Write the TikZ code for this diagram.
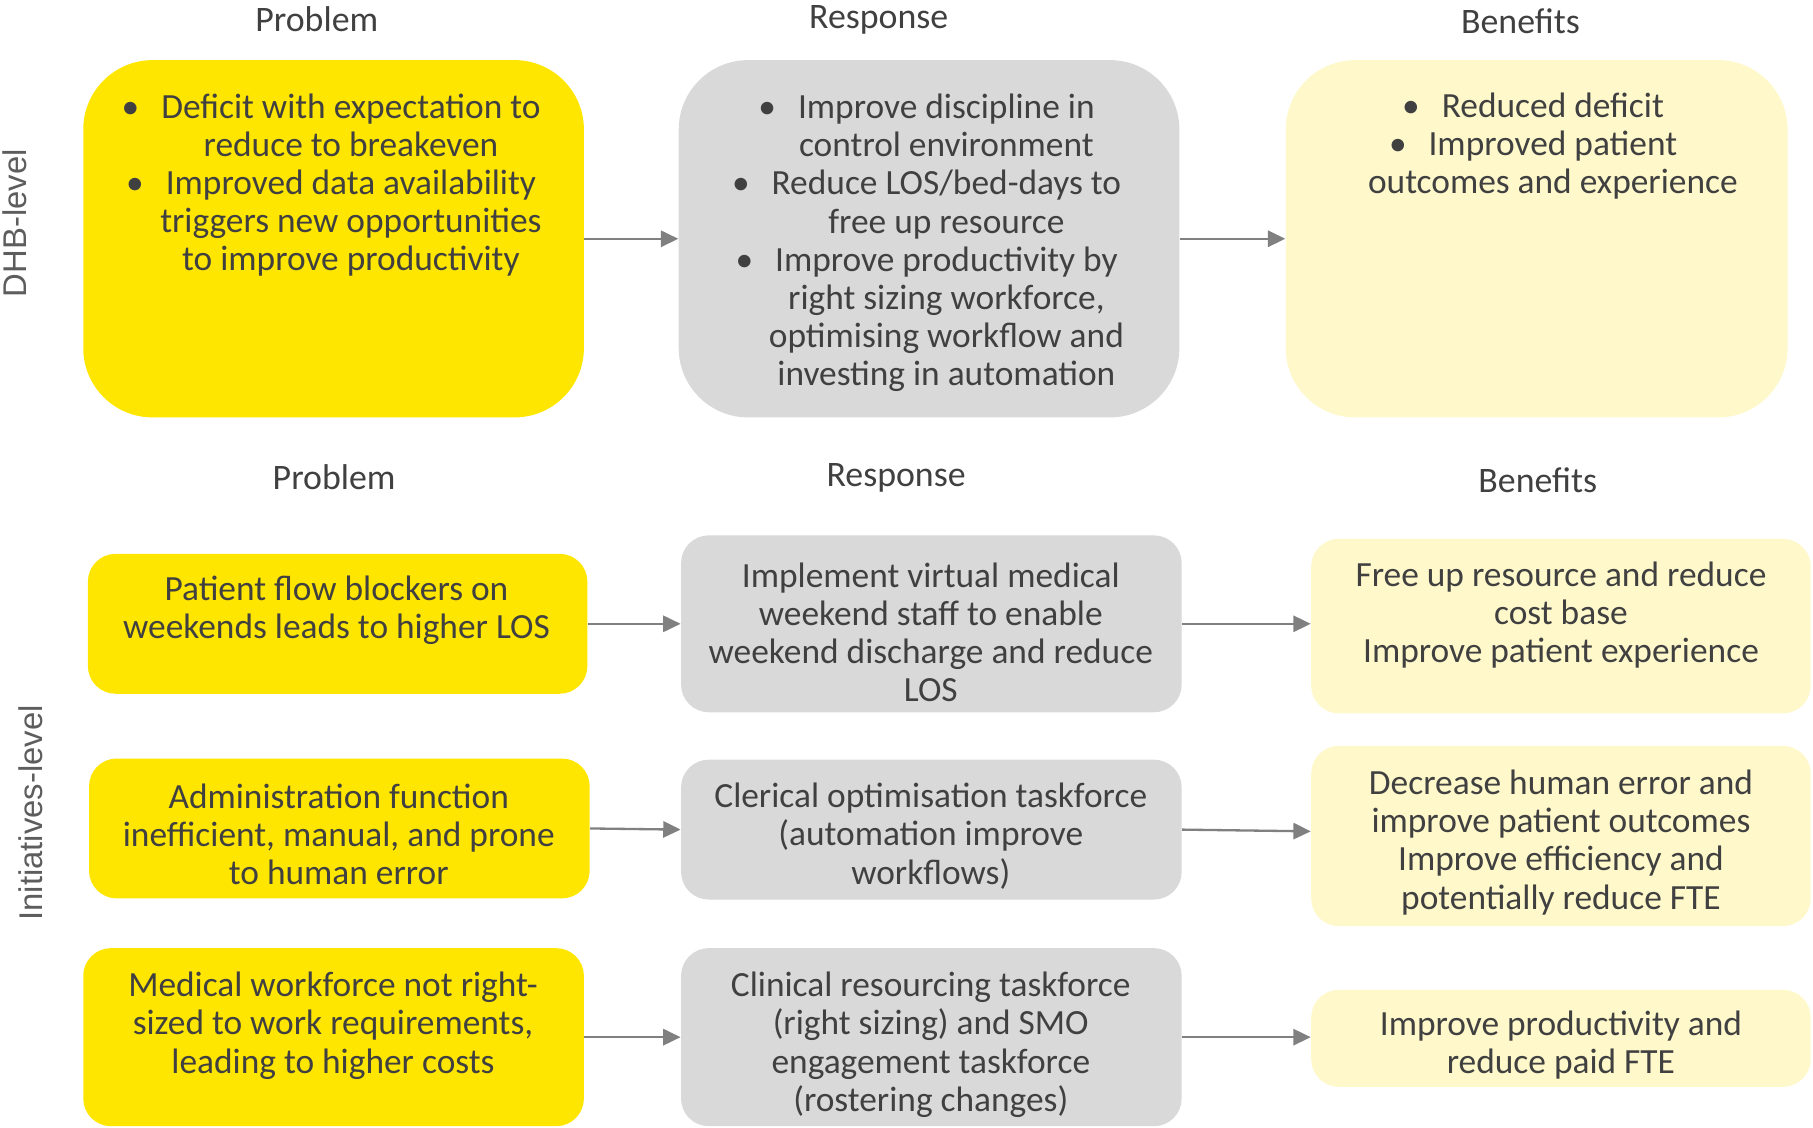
\documentclass[tikz,border=0pt]{standalone}
\usepackage{fontspec}
\setmainfont{Carlito}
\newfontfamily\sidefont{Liberation Sans}
\usetikzlibrary{arrows.meta}
\definecolor{eyyellow}{HTML}{FFE600}
\definecolor{boxgrey}{HTML}{D9D9D9}
\definecolor{paleyellow}{HTML}{FEF8CB}
\definecolor{txt}{HTML}{404040}
\definecolor{arrowgrey}{HTML}{808080}
\newcommand{\bul}{\llap{\textbullet\hspace{9.5pt}}}
\begin{document}
\begin{tikzpicture}[x=0.5pt,y=-0.5pt,
  every node/.style={text=txt},
  bodytext/.style={align=center,inner sep=0pt,yshift=-0.8pt,font=\fontsize{15.3}{16.5}\selectfont},
  header/.style={inner sep=0pt,font=\fontsize{15.5}{17}\selectfont},
  sidelabel/.style={inner sep=0pt,rotate=90,text=txt!85,font=\sidefont\fontsize{14.2}{17}\selectfont},
  bigbox/.style={rounded corners=30pt,inner sep=0pt,minimum width=216.5pt,minimum height=154.5pt},
  smallbox/.style={rounded corners=12pt,inner sep=0pt},
  probfill/.style={fill=eyyellow},
  respfill/.style={fill=boxgrey},
  benfill/.style={fill=paleyellow},
  flow/.style={draw=arrowgrey,line width=1pt,-{Triangle[length=7.5pt,width=7pt]}}]

\useasboundingbox (0,0) rectangle (1568,975);

% column headers
\node[header] (h1p) at (274,17) {Problem};
\node[header] (h1r) at (760,17) {Response};
\node[header] (h1b) at (1315,18) {Benefits};
\node[header] (h2p) at (289,413) {Problem};
\node[header] (h2r) at (775,413) {Response};
\node[header] (h2b) at (1330,415) {Benefits};

% row labels
\node[sidelabel] (lvl1) at (13,193) {DHB-level};
\node[sidelabel] (lvl2) at (27,703) {Initiatives-level};

% DHB-level boxes
\node[bigbox,probfill] (p1) at (288.5,206.5) {};
\node[bigbox,respfill] (r1) at (803.5,206.5) {};
\node[bigbox,benfill,minimum width=217pt] (b1) at (1329,206.5) {};

\node[bodytext] (p1t) at (303.5,158.5) {\bul Deficit with expectation to\\reduce to breakeven\\\bul Improved data availability\\triggers new opportunities\\to improve productivity};
\node[bodytext] (r1t) at (818.5,208.5) {\bul Improve discipline in\\control environment\\\bul Reduce LOS/bed-days to\\free up resource\\\bul Improve productivity by\\right sizing workforce,\\optimising workflow and\\investing in automation};
\node[bodytext] (b1t) at (1343,125) {\bul Reduced deficit\\\bul Improved patient\\outcomes and experience};

% initiatives-level boxes
\node[smallbox,probfill,minimum width=216pt,minimum height=60.5pt] (p2) at (292,539.5) {};
\node[smallbox,respfill,minimum width=216.5pt,minimum height=76.5pt] (r2) at (805.5,539.5) {};
\node[smallbox,benfill,minimum width=216pt,minimum height=75.5pt] (b2) at (1350,541.5) {};

\node[smallbox,probfill,minimum width=216.5pt,minimum height=60.5pt] (p3) at (293.5,716.5) {};
\node[smallbox,respfill,minimum width=216.5pt,minimum height=60.5pt] (r3) at (805.5,717.5) {};
\node[smallbox,benfill,minimum width=216pt,minimum height=78pt] (b3) at (1350,723) {};

\node[smallbox,probfill,minimum width=216.5pt,minimum height=77pt] (p4) at (288.5,897) {};
\node[smallbox,respfill,minimum width=216.5pt,minimum height=77pt] (r4) at (805.5,897) {};
\node[smallbox,benfill,minimum width=216pt,minimum height=42pt] (b4) at (1350,898) {};

\node[bodytext] (p2t) at (291,526.5) {Patient flow blockers on\\weekends leads to higher LOS};
\node[bodytext] (r2t) at (805,545.5) {Implement virtual medical\\weekend staff to enable\\weekend discharge and reduce\\LOS};
\node[bodytext] (b2t) at (1350,530.5) {Free up resource and reduce\\cost base\\Improve patient experience};

\node[bodytext] (p3t) at (293,720) {Administration function\\inefficient, manual, and prone\\to human error};
\node[bodytext] (r3t) at (805,721.5) {Clerical optimisation taskforce\\(automation improve\\workflows)};
\node[bodytext] (b3t) at (1350,727) {Decrease human error and\\improve patient outcomes\\Improve efficiency and\\potentially reduce FTE};

\node[bodytext] (p4t) at (288,885.5) {Medical workforce not right-\\sized to work requirements,\\leading to higher costs};
\node[bodytext] (r4t) at (805,902) {Clinical resourcing taskforce\\(right sizing) and SMO\\engagement taskforce\\(rostering changes)};
\node[bodytext] (b4t) at (1350,902.5) {Improve productivity and\\reduce paid FTE};

% connectors
\draw[flow] (p1.east) -- (r1.west);
\draw[flow] (r1.east) -- (b1.west);
\draw[flow] (p2.east) -- (r2.west);
\draw[flow] (r2.east) -- (r2.east -| b2.west);
\draw[flow] (p3.east) -- (r3.west);
\draw[flow] (r3.east) -- ([yshift=2pt]b3.west);
\draw[flow] (p4.east) -- (r4.west);
\draw[flow] (r4.east) -- (r4.east -| b4.west);
\end{tikzpicture}
\end{document}
